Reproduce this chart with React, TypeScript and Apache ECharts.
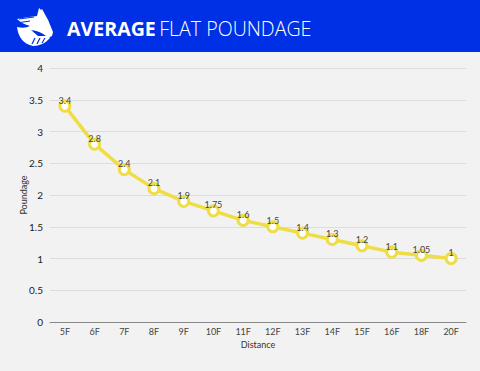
import React, { useEffect, useRef } from "react";
import * as echarts from "echarts";

const categories = ["5F", "6F", "7F", "8F", "9F", "10F", "11F", "12F", "13F", "14F", "15F", "16F", "18F", "20F"];
const poundage = [3.4, 2.8, 2.4, 2.1, 1.9, 1.75, 1.6, 1.5, 1.4, 1.3, 1.2, 1.1, 1.05, 1];
const yTicks = [0, 0.5, 1, 1.5, 2, 2.5, 3, 3.5, 4];

const LOGO_D =
  "M4 13 Q14 11 24 10 L26 2 L28 4 L29 3 Q36 14 40 26 L39 30 Q36 32 33 30 Q27 25 18 24 L25 30 L36 30 L37 32 Q30 40 20 40 Q6 37 4 21 Q12 23 17 20 Q9 18 4 13 Z";

echarts.graphic.registerShape("logoShape", echarts.graphic.extendPath(LOGO_D, {}));

export default function App() {
  const ref = useRef<HTMLDivElement>(null);
  useEffect(() => {
    if (!ref.current) return;
    const chart = echarts.init(ref.current, null, { renderer: "svg" });
    const blue = "#0030E6";
    chart.setOption({
      animation: false,
      backgroundColor: "#f2f2f2",
      textStyle: { fontFamily: "Lato" },
      graphic: [
        { type: "rect", left: 0, top: 0, shape: { width: 480, height: 52 }, style: { fill: blue }, z: 0 },
        {
          type: "logoShape",
          x: 13,
          y: 6,
          scaleX: 1,
          scaleY: 1,
          style: { fill: "#ffffff" },
          z: 2,
        },
        { type: "line", shape: { x1: 21, y1: 15, x2: 36, y2: 13 }, style: { stroke: blue, lineWidth: 1 }, z: 3 },
        { type: "line", shape: { x1: 19, y1: 19, x2: 34, y2: 17 }, style: { stroke: blue, lineWidth: 1 }, z: 3 },
        { type: "line", shape: { x1: 17, y1: 23, x2: 30, y2: 21 }, style: { stroke: blue, lineWidth: 1 }, z: 3 },
        { type: "line", shape: { x1: 32, y1: 44, x2: 35, y2: 38 }, style: { stroke: blue, lineWidth: 1.2 }, z: 3 },
        { type: "line", shape: { x1: 37, y1: 44, x2: 40, y2: 38 }, style: { stroke: blue, lineWidth: 1.2 }, z: 3 },
        { type: "line", shape: { x1: 42, y1: 43, x2: 45, y2: 38 }, style: { stroke: blue, lineWidth: 1.2 }, z: 3 },
        {
          type: "text",
          x: 67,
          y: 28,
          style: {
            text: "{b|AVERAGE} {l|FLAT POUNDAGE}",
            fill: "#ffffff",
            verticalAlign: "middle",
            rich: {
              b: { fontFamily: "Open Sans", fontWeight: "bold", fontSize: 19.6, fill: "#ffffff" },
              l: { fontFamily: "Open Sans", fontWeight: 300, fontSize: 19.6, fill: "#ffffff" },
            },
          },
          z: 3,
        },
      ],
      grid: { left: 50, right: 14, top: 68, bottom: 49, containLabel: false },
      xAxis: {
        type: "category",
        data: categories,
        boundaryGap: true,
        name: "Distance",
        nameLocation: "middle",
        nameGap: 18,
        nameMoveOverlap: false,
        nameTextStyle: { fontSize: 9, color: "#333" },
        axisLine: { lineStyle: { color: "#888", width: 1 } },
        axisTick: { alignWithLabel: true, length: 3, lineStyle: { color: "#888" } },
        axisLabel: { fontSize: 9, color: "#444", margin: 5 },
      },
      yAxis: {
        type: "value",
        min: yTicks[0],
        max: yTicks[yTicks.length - 1],
        interval: 0.5,
        name: "Poundage",
        nameLocation: "middle",
        nameGap: 22,
        nameMoveOverlap: false,
        nameTextStyle: { fontSize: 9, color: "#333" },
        axisLine: { show: false },
        axisTick: { show: false },
        axisLabel: { fontSize: 10, color: "#222", margin: 7 },
        splitLine: { lineStyle: { color: "#dcdcdc", width: 1 } },
      },
      series: [
        {
          type: "line",
          data: poundage,
          symbol: "circle",
          symbolSize: 10,
          lineStyle: { color: "#EEDD44", width: 3.5 },
          itemStyle: { color: "#ffffff", borderColor: "#EEDD44", borderWidth: 3 },
          label: { show: true, position: "top", distance: 0, offset: [0, 5], fontSize: 9, color: "#444" },
        },
      ],
    });
    return () => chart.dispose();
  }, []);
  return <div ref={ref} style={{ position: "fixed", left: 0, top: 0, width: 480, height: 371 }} />;
}
